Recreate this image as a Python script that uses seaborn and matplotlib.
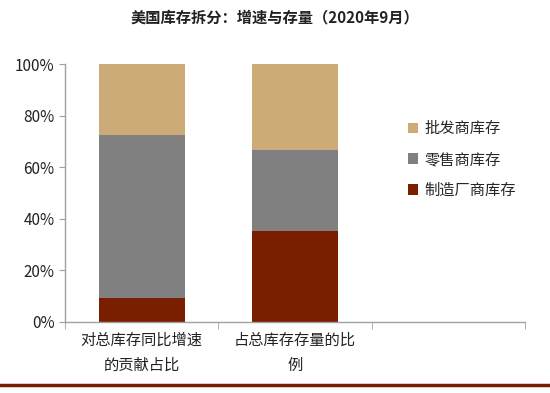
import numpy as np
import pandas as pd
import seaborn as sns
import matplotlib.pyplot as plt
from matplotlib.lines import Line2D
from matplotlib.ticker import FixedLocator, PercentFormatter

sns.set_style('white')
plt.rcParams['font.family'] = ['Noto Sans CJK SC', 'DejaVu Sans']

# data (percent)
categories = ['对总库存同比增速\n的贡献占比', '占总库存存量的比\n例', ' ']
manufacturing = [9.3, 35.3]
retail = [63.2, 31.4]
wholesale = [27.5, 33.3]
series_names = ['批发商库存', '零售商库存', '制造厂商库存']
colors = ['#CCAB78', '#808080', '#7A1E00']

cum1 = np.array(manufacturing)
cum2 = cum1 + np.array(retail)
cum3 = cum2 + np.array(wholesale)

fig = plt.figure(figsize=(5.5, 3.93), dpi=100)
ax = fig.add_axes([0.118, 0.181, 0.837, 0.656])

order = categories
for cum, name, col in [(cum3, series_names[0], colors[0]),
                       (cum2, series_names[1], colors[1]),
                       (cum1, series_names[2], colors[2])]:
    df = pd.DataFrame({'cat': categories[:2], 'val': cum})
    sns.barplot(data=df, x='cat', y='val', order=order, color=col,
                width=0.56, saturation=1, label=name, ax=ax, linewidth=0)

ax.set_ylim(0, 100)
ax.set_xlim(-0.5, 2.5)
ax.set_xlabel('')
ax.set_ylabel('')
ax.yaxis.set_major_formatter(PercentFormatter(decimals=0))
ax.set_yticks([0, 20, 40, 60, 80, 100])
ax.tick_params(axis='y', left=True, length=4, color='#A0A0A0', labelsize=11, colors='#222222')
ax.tick_params(axis='x', which='major', length=0, labelsize=11, pad=7, colors='#222222')
for lab in ax.get_xticklabels():
    lab.set_linespacing(1.6)
ax.xaxis.set_minor_locator(FixedLocator([-0.5, 0.5, 1.5, 2.5]))
ax.tick_params(axis='x', which='minor', bottom=True, length=5, color='#A0A0A0')
for s in ['top', 'right']:
    ax.spines[s].set_visible(False)
for s in ['left', 'bottom']:
    ax.spines[s].set_color('#A0A0A0')
    ax.spines[s].set_linewidth(1)

ax.legend(loc='upper left', bbox_to_anchor=(0.715, 0.835), frameon=False,
          fontsize=11, handlelength=0.7, handleheight=0.7, handletextpad=0.4,
          labelspacing=0.9)

fig.text(0.5, 0.955, '美国库存拆分：增速与存量（2020年9月）', ha='center', va='center',
         fontsize=11, fontweight='bold', color='#222222')
fig.add_artist(Line2D([0, 1], [0.02, 0.02], color='#7A1E00', linewidth=2.5))

fig.savefig('out.png', dpi=100)
